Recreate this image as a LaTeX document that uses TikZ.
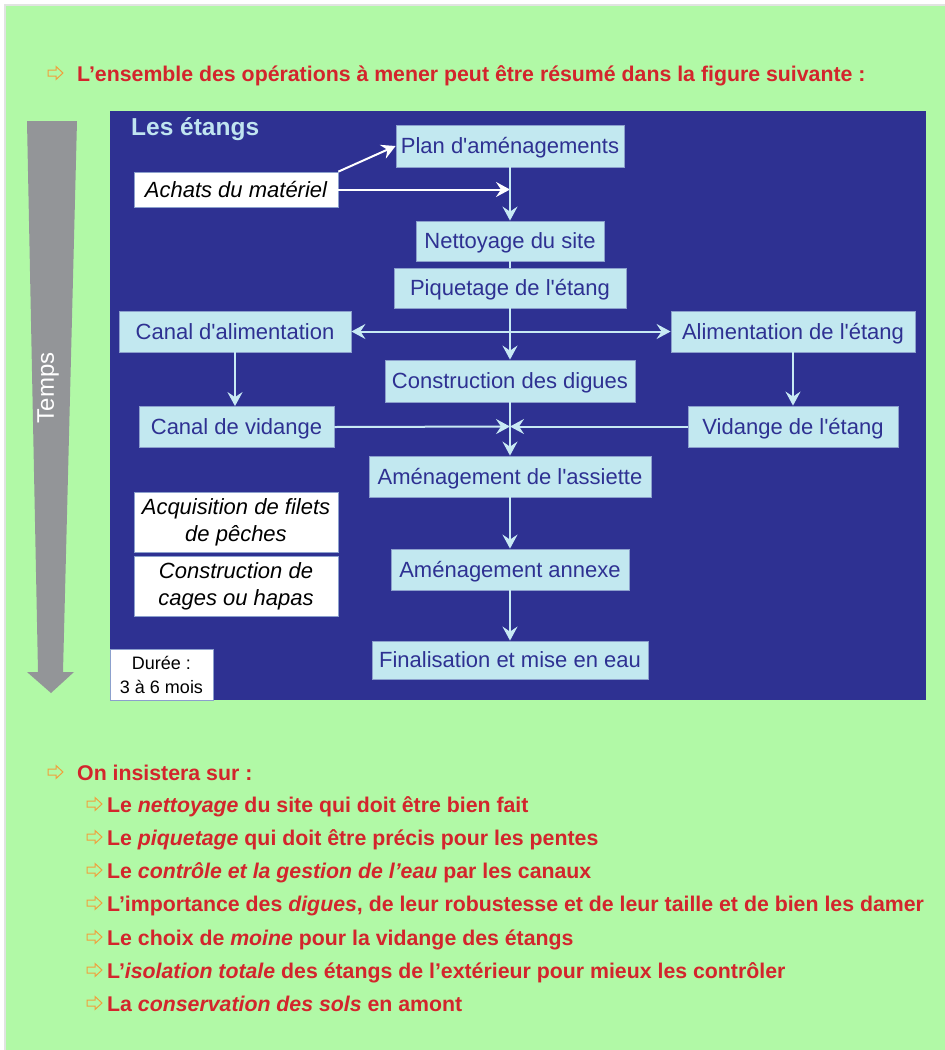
\documentclass[tikz,border=0pt]{standalone}
\usepackage{fontspec}
\setmainfont{Liberation Sans}
\usetikzlibrary{arrows.meta}
\font\aposfont="Liberation Sans" at 22pt
\newcommand\ap{{\aposfont\char39}}
\definecolor{bggreen}{RGB}{177,249,166}
\definecolor{panelblue}{RGB}{46,49,146}
\definecolor{boxfill}{RGB}{194,232,240}
\definecolor{boxline}{RGB}{140,160,205}
\definecolor{redtxt}{RGB}{211,37,44}
\definecolor{orangearr}{RGB}{240,160,60}
\definecolor{timegray}{RGB}{147,149,152}
\definecolor{titlecol}{RGB}{192,228,240}
\definecolor{linkcol}{RGB}{200,234,244}
\definecolor{frame}{RGB}{225,228,225}
\begin{document}
\begin{tikzpicture}[x=1pt,y=-1pt,
  tip/.tip={Stealth[length=14pt,width=15pt,inset=5pt]},
  stepbox/.style={draw=boxline, line width=0.8pt, fill=boxfill, text=panelblue,
    font=\fontsize{22}{26}\selectfont, inner sep=0pt, align=center,
    text height=15.8pt, text depth=0pt},
  whitebox/.style={draw=boxline, line width=0.8pt, fill=white, text=black,
    font=\fontsize{22}{27}\selectfont\itshape, inner sep=0pt, align=center},
  link/.style={draw=linkcol, line width=2pt, -tip},
  wlink/.style={draw=white, line width=2pt, -tip},
  redline/.style={anchor=base west, inner sep=0pt, text=redtxt,
    font=\fontsize{21.3}{24}\selectfont\bfseries},
  pics/outarrow/.style={code={
    \draw[orangearr, line width=1pt, line join=miter]
      (0,-3) -- (8,-3) -- (8,-6.5) -- (15,0) -- (8,6.5) -- (8,3) -- (0,3) -- cycle;}}
]
\useasboundingbox (0,0) rectangle (945,1050);
\fill[white] (0,0) rectangle (945,1050);
\fill[bggreen] (6,6) rectangle (945,1050);
\draw[frame, line width=2.5pt] (5,1050) -- (5,5) -- (945,5);

% header
\pic at (48,73) {outarrow};
\node[redline] (hdr) at (77,81) {L’ensemble des opérations à mener peut être résumé dans la figure suivante :};

% time arrow
\fill[timegray] (27,121) -- (77,121) -- (63,672) -- (74,672) -- (51,693) -- (27,672) -- (38,672) -- cycle;
\node[rotate=90, text=white, font=\fontsize{24}{28}\selectfont] (temps) at (48,388) {Temps};

% panel
\fill[panelblue] (110,111) rectangle (926,700);
\node[anchor=base west, inner sep=0pt, text=titlecol, font=\fontsize{24.5}{28}\selectfont\bfseries] (title) at (131,135) {Les étangs};

% boxes
\node[stepbox, minimum width=228pt, minimum height=42pt] (plan) at (510,146) {Plan d\ap aménagements};
\node[whitebox, minimum width=204pt, minimum height=35pt] (achats) at (236,189.5) {Achats du matériel};
\node[stepbox, minimum width=188pt, minimum height=40pt] (nett) at (510,241) {Nettoyage du site};
\node[stepbox, minimum width=232pt, minimum height=40pt] (piq) at (510,288) {Piquetage de l\ap étang};
\node[stepbox, minimum width=232pt, minimum height=41pt] (canalA) at (235,331.5) {Canal d\ap alimentation};
\node[stepbox, minimum width=244pt, minimum height=41pt] (alimE) at (793,331.5) {Alimentation de l\ap étang};
\node[stepbox, minimum width=250pt, minimum height=42pt] (constr) at (510,381) {Construction des digues};
\node[stepbox, minimum width=195pt, minimum height=41pt] (canalV) at (236.5,427) {Canal de vidange};
\node[stepbox, minimum width=210pt, minimum height=41pt] (vidE) at (793,426.5) {Vidange de l\ap étang};
\node[stepbox, minimum width=282pt, minimum height=41pt] (assiette) at (510,476.5) {Aménagement de l\ap assiette};
\node[stepbox, minimum width=238pt, minimum height=41pt] (annexe) at (510,569.5) {Aménagement annexe};
\node[stepbox, minimum width=276pt, minimum height=38pt] (final) at (510,660) {Finalisation et mise en eau};
\node[whitebox, minimum width=204pt, minimum height=60pt] (filets) at (236,522) {Acquisition de filets\\de pêches};
\node[whitebox, minimum width=204pt, minimum height=60pt] (cages) at (236,586) {Construction de\\cages ou hapas};
\node[draw=boxline, line width=0.8pt, fill=white, text=black, inner sep=0pt, align=center,
  font=\fontsize{18}{24}\selectfont, minimum width=103pt, minimum height=51pt] (duree) at (161.5,674.5) {Durée :\\3 à 6 mois};

% junctions
\coordinate (j1) at (510,189.5);
\coordinate (j2) at (510,426.5);

% connectors
\draw[wlink] (achats.north east) -- (plan.west);
\draw[wlink] (achats.east) -- (j1);
\draw[link] (plan.south) -- (nett.north);
\draw[draw=linkcol, line width=2pt] (nett.south) -- (piq.north);
\draw[link] (piq.south) -- (constr.north);
\draw[link, tip-tip] (canalA.east) -- (alimE.west);
\draw[link] (canalA.south) -- (canalA.south |- canalV.north);
\draw[link] (alimE.south) -- (vidE.north);
\draw[link] (constr.south) -- (assiette.north);
\draw[link] (canalV.east) -- (j2);
\draw[link] (vidE.west) -- (j2);
\draw[link] (assiette.south) -- (annexe.north);
\draw[link] (annexe.south) -- (final.north);

% bottom list
\pic at (48,772) {outarrow};
\node[redline] (on) at (77,780) {On insistera sur :};
\pic at (87,804) {outarrow};
\node[redline] (l1) at (107,812) {Le \textit{nettoyage} du site qui doit être bien fait};
\pic at (87,837) {outarrow};
\node[redline] (l2) at (107,845) {Le \textit{piquetage} qui doit être précis pour les pentes};
\pic at (87,870) {outarrow};
\node[redline] (l3) at (107,878) {Le \textit{contrôle et la gestion de l’eau} par les canaux};
\pic at (87,903) {outarrow};
\node[redline] (l4) at (107,911) {L’importance des \textit{digues}, de leur robustesse et de leur taille et de bien les damer};
\pic at (87,937) {outarrow};
\node[redline] (l5) at (107,945) {Le choix de \textit{moine} pour la vidange des étangs};
\pic at (87,970) {outarrow};
\node[redline] (l6) at (107,978) {L’\textit{isolation totale} des étangs de l’extérieur pour mieux les contrôler};
\pic at (87,1003) {outarrow};
\node[redline] (l7) at (107,1011) {La \textit{conservation des sols} en amont};
\end{tikzpicture}
\end{document}
